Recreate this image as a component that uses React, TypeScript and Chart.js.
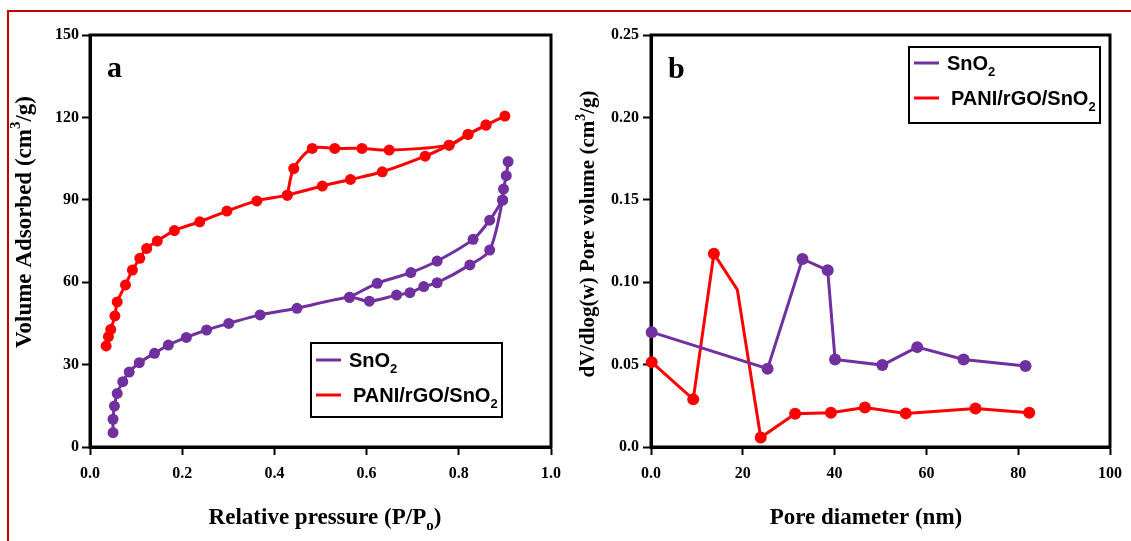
import React, { useEffect, useRef } from 'react';
import { Chart, registerables } from 'chart.js';

Chart.register(...registerables);

const PURPLE = '#7030A0';
const RED = '#FF0000';

// ---- Panel a: N2 adsorption/desorption isotherms ----
const snAdsP = [0.050, 0.050, 0.053, 0.059, 0.071, 0.085, 0.107, 0.140, 0.170, 0.209, 0.253, 0.301, 0.369, 0.449, 0.563, 0.606, 0.665, 0.694, 0.724, 0.753, 0.824, 0.867, 0.895, 0.897, 0.903, 0.907];
const snAdsV = [5.2, 10.1, 14.9, 19.5, 23.8, 27.3, 30.7, 34.1, 37.1, 39.9, 42.6, 45.0, 48.1, 50.5, 54.5, 53.1, 55.3, 56.2, 58.4, 59.8, 66.3, 71.7, 89.9, 93.9, 98.8, 103.9];
const snDesP = [0.895, 0.867, 0.831, 0.753, 0.696, 0.623, 0.563];
const snDesV = [89.9, 82.6, 75.6, 67.7, 63.5, 59.6, 54.5];
const paniAdsP = [0.035, 0.040, 0.045, 0.054, 0.059, 0.077, 0.092, 0.108, 0.123, 0.146, 0.183, 0.238, 0.297, 0.362, 0.428, 0.504, 0.565, 0.634, 0.727, 0.779, 0.820, 0.859, 0.900];
const paniAdsV = [36.8, 40.2, 42.8, 47.7, 52.8, 59.0, 64.4, 68.7, 72.3, 75.0, 78.8, 82.0, 85.9, 89.6, 91.7, 95.0, 97.4, 100.2, 105.9, 109.9, 113.8, 117.2, 120.5];
const paniDesP = [0.859, 0.820, 0.779, 0.649, 0.590, 0.531, 0.482, 0.442, 0.428];
const paniDesV = [117.2, 113.8, 109.9, 108.1, 108.7, 108.7, 108.7, 101.4, 91.7];

const pressureTicks = [0, 0.2, 0.4, 0.6, 0.8, 1.0];
const pressureTickLabels = ['0.0', '0.2', '0.4', '0.6', '0.8', '1.0'];
const volumeTicks = [0, 30, 60, 90, 120, 150];
const volumeTickLabels = ['0', '30', '60', '90', '120', '150'];

// ---- Panel b: pore size distribution ----
const snDiam = [0.15, 25.4, 33.0, 38.5, 40.1, 50.4, 58.0, 68.1, 81.6];
const snPoreVol = [0.0697, 0.0475, 0.1141, 0.1072, 0.0531, 0.0497, 0.0606, 0.0531, 0.0491];
const paniDiam = [0.15, 9.2, 13.7, 18.8, 23.9, 31.4, 39.2, 46.6, 55.5, 70.7, 82.4];
const paniPoreVol = [0.0515, 0.0289, 0.1173, 0.0955, 0.0057, 0.0202, 0.0208, 0.0239, 0.0204, 0.0234, 0.0208];

const diameterTicks = [0, 20, 40, 60, 80, 100];
const diameterTickLabels = ['0.0', '20', '40', '60', '80', '100'];
const poreVolTicks = [0, 0.05, 0.1, 0.15, 0.2, 0.25];
const poreVolTickLabels = ['0.0', '0.05', '0.10', '0.15', '0.20', '0.25'];

const seriesNames = ['SnO', 'PANI/rGO/SnO'];

const SERIF = '"Liberation Serif", "Times New Roman", serif';
const SANS = '"Liberation Sans", Arial, sans-serif';

type Seg = { t: string; sub?: boolean; sup?: boolean };

function drawRich(ctx: CanvasRenderingContext2D, segs: Seg[], x: number, y: number, size: number, family: string, align: 'left' | 'center') {
  const parts = segs.map((s) => {
    const sz = s.sub || s.sup ? Math.round(size * 0.65) : size;
    ctx.font = `bold ${sz}px ${family}`;
    return { s, sz, w: ctx.measureText(s.t).width };
  });
  const total = parts.reduce((a, p) => a + p.w, 0);
  let cx = align === 'center' ? x - total / 2 : x;
  ctx.textAlign = 'left';
  for (const p of parts) {
    ctx.font = `bold ${p.sz}px ${family}`;
    const dy = p.s.sub ? size * 0.28 : p.s.sup ? -size * 0.38 : 0;
    ctx.fillText(p.s.t, cx, y + dy);
    cx += p.w;
  }
}

type Decor = {
  offsetX: number;
  letter: string;
  letterX: number;
  letterY: number;
  xTitle: Seg[];
  xTitleX: number;
  xTitleY: number;
  yTitle: Seg[];
  yTitleX: number;
  yTitleY: number;
  yTitleSize: number;
  legend: { x: number; y: number; w: number; h: number; row1: number; row2: number };
};

function makePlugin(d: Decor) {
  return {
    id: 'decor',
    beforeDatasetsDraw(chart: any) {
      const { ctx, chartArea: a } = chart;
      ctx.save();
      ctx.strokeStyle = '#000';
      ctx.lineWidth = 3;
      ctx.strokeRect(a.left, a.top, a.right - a.left, a.bottom - a.top);
      ctx.restore();
    },
    afterDraw(chart: any) {
      const ctx: CanvasRenderingContext2D = chart.ctx;
      const ox = d.offsetX;
      ctx.save();
      ctx.fillStyle = '#000';
      ctx.textBaseline = 'alphabetic';
      // panel letter
      ctx.font = `bold 30px ${SERIF}`;
      ctx.textAlign = 'left';
      ctx.fillText(d.letter, d.letterX - ox, d.letterY);
      // x title
      drawRich(ctx, d.xTitle, d.xTitleX - ox, d.xTitleY, 23, SERIF, 'center');
      // y title
      ctx.save();
      ctx.translate(d.yTitleX - ox, d.yTitleY);
      ctx.rotate(-Math.PI / 2);
      ctx.textBaseline = 'middle';
      drawRich(ctx, d.yTitle, 0, 0, d.yTitleSize, SERIF, 'center');
      ctx.restore();
      // legend
      const L = d.legend;
      ctx.strokeStyle = '#000';
      ctx.lineWidth = 2;
      ctx.fillStyle = '#fff';
      ctx.fillRect(L.x - ox, L.y, L.w, L.h);
      ctx.strokeRect(L.x - ox, L.y, L.w, L.h);
      const rows = [
        { color: PURPLE, y: L.row1, name: seriesNames[0], tx: 38 },
        { color: RED, y: L.row2, name: seriesNames[1], tx: 42 },
      ];
      for (const r of rows) {
        ctx.strokeStyle = r.color;
        ctx.lineWidth = 3;
        ctx.beginPath();
        ctx.moveTo(L.x - ox + 5, r.y - 7);
        ctx.lineTo(L.x - ox + 30, r.y - 7);
        ctx.stroke();
        ctx.fillStyle = '#000';
        ctx.textBaseline = 'alphabetic';
        drawRich(ctx, [{ t: r.name }, { t: '2', sub: true }], L.x - ox + r.tx, r.y, 20, SANS, 'left');
      }
      ctx.restore();
    },
  };
}

function axisCommon(ticks: number[], labels: string[], padding: number) {
  return {
    type: 'linear' as const,
    min: ticks[0],
    max: ticks[ticks.length - 1],
    afterBuildTicks: (s: any) => {
      s.ticks = ticks.map((v) => ({ value: v }));
    },
    ticks: {
      callback: (_v: any, i: number) => labels[i],
      font: { family: SERIF, size: 16, weight: 'bold' as const },
      color: '#000',
      padding,
      autoSkip: false,
      maxRotation: 0,
    },
    grid: {
      display: true,
      drawOnChartArea: false,
      drawTicks: true,
      tickLength: 8,
      tickWidth: 2,
      tickColor: '#000',
    },
    border: { display: true, color: '#000', width: 3 },
  };
}

function pts(xs: number[], ys: number[]) {
  return xs.map((x, i) => ({ x, y: ys[i] }));
}

function Panel(props: { left: number; width: number; build: () => any }) {
  const ref = useRef<HTMLCanvasElement | null>(null);
  useEffect(() => {
    if (!ref.current) return;
    const chart = new Chart(ref.current, props.build());
    return () => chart.destroy();
  }, []);
  return (
    <canvas
      ref={ref}
      width={props.width}
      height={541}
      style={{ position: 'absolute', left: props.left, top: 0, width: props.width, height: 541, display: 'block' }}
    />
  );
}

function buildA() {
  const line = (color: string, data: any[]) => ({
    data,
    showLine: true,
    borderColor: color,
    backgroundColor: color,
    borderWidth: 3,
    pointRadius: 5.5,
    pointBorderWidth: 0,
    pointBackgroundColor: color,
    tension: 0.3,
    clip: false as const,
  });
  return {
    type: 'scatter',
    data: {
      datasets: [
        line(PURPLE, pts(snAdsP, snAdsV)),
        line(PURPLE, pts(snDesP, snDesV)),
        line(RED, pts(paniAdsP, paniAdsV)),
        line(RED, pts(paniDesP, paniDesV)),
      ],
    },
    options: {
      responsive: false,
      animation: false,
      events: [],
      layout: { padding: { top: 35, right: 18, left: 0, bottom: 0 } },
      plugins: { legend: { display: false }, tooltip: { enabled: false } },
      scales: {
        x: { ...axisCommon(pressureTicks, pressureTickLabels, 9), afterFit: (s: any) => { s.height = 94; } },
        y: { ...axisCommon(volumeTicks, volumeTickLabels, 3), afterFit: (s: any) => { s.width = 90; } },
      },
    },
    plugins: [
      makePlugin({
        offsetX: 0,
        letter: 'a',
        letterX: 107,
        letterY: 77,
        xTitle: [{ t: 'Relative pressure (P/P' }, { t: 'o', sub: true }, { t: ')' }],
        xTitleX: 325,
        xTitleY: 524,
        yTitle: [{ t: 'Volume Adsorbed (cm' }, { t: '3', sup: true }, { t: '/g)' }],
        yTitleX: 25,
        yTitleY: 222,
        yTitleSize: 23,
        legend: { x: 311, y: 343, w: 191, h: 74, row1: 367, row2: 402 },
      }),
    ],
  };
}

function buildB() {
  const line = (color: string, data: any[], skipIndex: number) => ({
    data,
    showLine: true,
    borderColor: color,
    backgroundColor: color,
    borderWidth: 3,
    pointRadius: (c: any) => (c.dataIndex === skipIndex ? 0 : 6),
    pointBorderWidth: 0,
    pointBackgroundColor: color,
    tension: 0,
    clip: false as const,
  });
  return {
    type: 'scatter',
    data: {
      datasets: [
        line(PURPLE, pts(snDiam, snPoreVol), -1),
        line(RED, pts(paniDiam, paniPoreVol), 3),
      ],
    },
    options: {
      responsive: false,
      animation: false,
      events: [],
      layout: { padding: { top: 35, right: 19, left: 0, bottom: 0 } },
      plugins: { legend: { display: false }, tooltip: { enabled: false } },
      scales: {
        x: { ...axisCommon(diameterTicks, diameterTickLabels, 9), afterFit: (s: any) => { s.height = 94; } },
        y: { ...axisCommon(poreVolTicks, poreVolTickLabels, 4), afterFit: (s: any) => { s.width = 81; } },
      },
    },
    plugins: [
      makePlugin({
        offsetX: 570,
        letter: 'b',
        letterX: 668,
        letterY: 78,
        xTitle: [{ t: 'Pore diameter (nm)' }],
        xTitleX: 866,
        xTitleY: 524,
        yTitle: [{ t: 'dV/dlog(w) Pore volume (cm' }, { t: '3', sup: true }, { t: '/g)' }],
        yTitleX: 589,
        yTitleY: 234,
        yTitleSize: 21,
        legend: { x: 909, y: 47, w: 191, h: 76, row1: 70, row2: 105 },
      }),
    ],
  };
}

export default function App() {
  return (
    <div style={{ position: 'fixed', left: 0, top: 0, width: 1131, height: 541, background: '#fff', overflow: 'hidden' }}>
      <Panel left={0} width={570} build={buildA} />
      <Panel left={570} width={561} build={buildB} />
      <div
        style={{
          position: 'absolute',
          left: 7,
          top: 10,
          width: 1140,
          height: 560,
          borderTop: '2px solid #C00000',
          borderLeft: '2px solid #C00000',
          pointerEvents: 'none',
        }}
      />
    </div>
  );
}
